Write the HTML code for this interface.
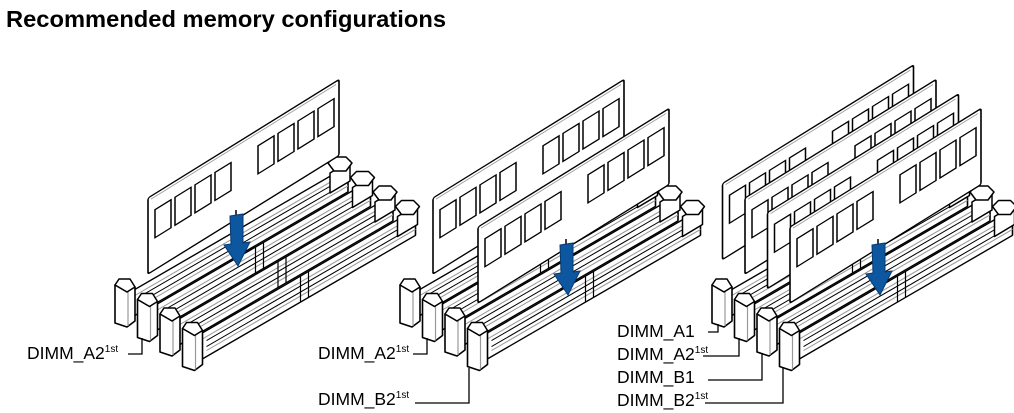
<!DOCTYPE html>
<html><head><meta charset="utf-8"><style>
html,body{margin:0;padding:0;background:#fff;width:1014px;height:413px;overflow:hidden}
svg{display:block}
text{font-family:"Liberation Sans",sans-serif}
</style></head><body>
<svg width="1014" height="413" viewBox="0 0 1014 413" xmlns="http://www.w3.org/2000/svg">
<defs>
<g id="slot" stroke-linejoin="round">
  <g transform="matrix(1,-0.58,0,1,0,0)">
    <rect x="18" y="18" width="215" height="26" fill="#fff" stroke="#000" stroke-width="1.6"/>
    <line x1="18" y1="24" x2="233" y2="24" stroke="#999" stroke-width="1.2"/>
    <line x1="24" y1="28" x2="226" y2="28" stroke="#000" stroke-width="1.2"/>
    <line x1="24" y1="34" x2="226" y2="34" stroke="#000" stroke-width="1.2"/>
    <line x1="24" y1="38" x2="233" y2="38" stroke="#999" stroke-width="1.2"/>
    <line x1="118" y1="18" x2="118" y2="44" stroke="#000" stroke-width="1.2"/>
    <line x1="126" y1="18" x2="126" y2="44" stroke="#000" stroke-width="1.2"/>
  </g>
  <!-- back clip -->
  <path d="M215,-110 L215,-90 L235,-102 L235,-122 Z" fill="#fff" stroke="#000" stroke-width="1.5"/>
  <path d="M213,-120 L219,-126 L231,-126 L237,-120 L231,-112 L219,-112 Z" fill="#fff" stroke="#000" stroke-width="1.5"/>
  <!-- front clip -->
  <path d="M0,2 L0,40 L12,44 L20,38 L20,4 Z" fill="#fff" stroke="#000" stroke-width="1.6"/>
  <line x1="13" y1="8" x2="13" y2="43" stroke="#999" stroke-width="1.2"/>
  <path d="M0,2 L4,-4 L15,-4 L20,4 L12,9 Z" fill="#fff" stroke="#000" stroke-width="1.5"/>
  <line x1="0" y1="2" x2="12" y2="9" stroke="#000" stroke-width="1.2"/>
</g>
<g id="mod">
  <g transform="matrix(1,-0.62,0,1,0,0)">
    <rect x="0" y="0" width="191" height="76" rx="2" fill="#fff" stroke="#000" stroke-width="1.6"/>
    <line x1="3" y1="3" x2="188" y2="3" stroke="#999" stroke-width="1"/>
    <g fill="#fff" stroke="#000" stroke-width="1.5">
      <rect x="7" y="16" width="16" height="28"/><rect x="27" y="16" width="16" height="28"/>
      <rect x="47" y="16" width="16" height="28"/><rect x="67" y="16" width="16" height="28"/>
      <rect x="110" y="16" width="16" height="28"/><rect x="130" y="16" width="16" height="28"/>
      <rect x="150" y="16" width="16" height="28"/><rect x="170" y="16" width="16" height="28"/>
    </g>
  </g>
</g>
<g id="arrow">
  <line x1="88" y1="12" x2="88" y2="22" stroke="#000" stroke-width="1.5"/>
  <path d="M82,18 L95,16 L95,45 L102,44 L90,68 L76,47 L83,46 Z" fill="#0d56a0" stroke="#073a70" stroke-width="1"/>
</g>
</defs>

<text x="6" y="27" font-size="23" font-weight="bold" textLength="440" lengthAdjust="spacingAndGlyphs">Recommended memory configurations</text>

<!-- Group 1 -->
<use href="#slot" x="115" y="283"/>
<use href="#slot" x="137.5" y="297.5"/>
<use href="#mod" x="148" y="198"/>
<use href="#arrow" x="148" y="198"/>
<use href="#slot" x="160" y="312"/>
<use href="#slot" x="182.5" y="326.5"/>

<!-- Group 2 -->
<use href="#slot" x="400" y="283"/>
<use href="#slot" x="422.5" y="297.5"/>
<use href="#mod" x="433" y="198"/>
<use href="#slot" x="445" y="312"/>
<use href="#slot" x="467.5" y="326.5"/>
<use href="#mod" x="478" y="227"/>
<use href="#arrow" x="478" y="227"/>

<!-- Group 3 -->
<use href="#slot" x="712" y="283"/>
<use href="#mod" x="722.5" y="183.5"/>
<use href="#slot" x="734.5" y="297.5"/>
<use href="#mod" x="745" y="198"/>
<use href="#slot" x="757" y="312"/>
<use href="#mod" x="767.5" y="212.5"/>
<use href="#slot" x="779.5" y="326.5"/>
<use href="#mod" x="790" y="227"/>
<use href="#arrow" x="790" y="227"/>

<!-- Labels -->
<g font-size="17.5" fill="#000">
  <text x="27" y="359">DIMM_A2<tspan font-size="10" dy="-7">1st</tspan></text>
  <text x="318" y="359">DIMM_A2<tspan font-size="10" dy="-7">1st</tspan></text>
  <text x="318" y="405">DIMM_B2<tspan font-size="10" dy="-7">1st</tspan></text>
  <text x="617" y="337">DIMM_A1</text>
  <text x="617" y="360">DIMM_A2<tspan font-size="10" dy="-7">1st</tspan></text>
  <text x="617" y="383">DIMM_B1</text>
  <text x="617" y="406">DIMM_B2<tspan font-size="10" dy="-7">1st</tspan></text>
</g>
<g fill="none" stroke="#000" stroke-width="1.3">
  <polyline points="128,354 142,354 142,338"/>
  <polyline points="413,354 427,354 427,338"/>
  <polyline points="415,403 469,403 469,368"/>
  <polyline points="708,332 718,332 718,324"/>
  <polyline points="703,356 739,356 739,338"/>
  <polyline points="708,380 762,380 762,353"/>
  <polyline points="705,403 783,403 783,368"/>
</g>
</svg>
</body></html>
